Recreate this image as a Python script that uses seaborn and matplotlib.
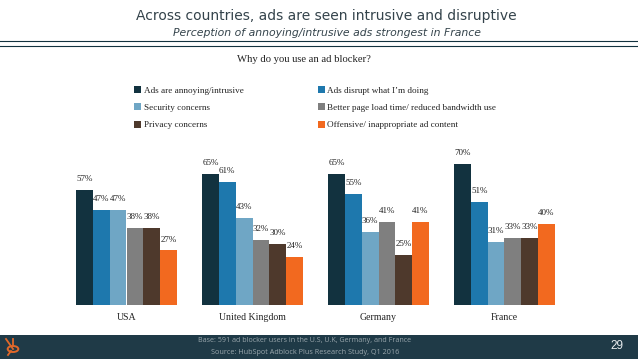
import pandas as pd
import seaborn as sns
import matplotlib.pyplot as plt
from matplotlib.patches import Rectangle, Circle
from matplotlib.lines import Line2D

# Data
paises = ['USA', 'United Kingdom', 'Germany', 'France']
motivos = ['Ads are annoying/intrusive', 'Ads disrupt what I’m doing', 'Security concerns',
           'Better page load time/ reduced bandwidth use', 'Privacy concerns',
           'Offensive/ inappropriate ad content']
annoying = [57, 65, 65, 70]
disrupt = [47, 61, 55, 51]
security = [47, 43, 36, 31]
better_page = [38, 32, 41, 33]
privacy = [38, 30, 25, 33]
offensive = [27, 24, 41, 40]
colores = ['#12323f', '#1e78ad', '#6fa6c5', '#7f7f7f', '#4e392c', '#f2691f']

df = pd.DataFrame({'pais': paises * 6,
                   'motivo': [m for m in motivos for _ in paises],
                   'valor': annoying + disrupt + security + better_page + privacy + offensive})

W, H = 638, 359
fig = plt.figure(figsize=(W / 100, H / 100), dpi=100)
ax = fig.add_axes([63.5 / W, (H - 305) / H, 504 / W, 161.6 / H])

sns.barplot(data=df, x='pais', y='valor', hue='motivo', order=paises, hue_order=motivos,
            palette=colores, saturation=1, width=0.8, gap=0, ax=ax)
ax.set_xlim(-0.5, 3.5)
ax.set_ylim(0, 80)
ax.set_xlabel('')
ax.set_ylabel('')
ax.set_yticks([])
ax.tick_params(axis='x', length=0, pad=6, labelsize=7.1, labelcolor='#222222')
for label in ax.get_xticklabels():
    label.set_family('Liberation Serif')
sns.despine(ax=ax, left=True, bottom=True)

for cont in ax.containers:
    ax.bar_label(cont, fmt='%g%%', padding=5, fontsize=6.5, color='#222222', family='Liberation Serif')

# Legend by rows, matplotlib fills by columns
handles, labels = ax.get_legend_handles_labels()
orden = [0, 2, 4, 1, 3, 5]
ax.get_legend().remove()
fig.legend([handles[i] for i in orden], [labels[i] for i in orden], ncol=2, frameon=False,
           loc='upper left', bbox_to_anchor=(134 / W, 1 - 86 / H), prop={'family': 'Liberation Serif', 'size': 6.6},
           handlelength=0.8, handleheight=0.8, handletextpad=0.25, columnspacing=8.1, labelspacing=0.95,
           borderpad=0, borderaxespad=0, labelcolor='#222222')

# Header
fig.text(326 / W, 1 - 16 / H, 'Across countries, ads are seen intrusive and disruptive', ha='center', va='center',
         fontsize=10, color='#34434b', family='DejaVu Sans')
fig.text(327 / W, 1 - 33 / H, 'Perception of annoying/intrusive ads strongest in France', ha='center', va='center',
         fontsize=7.8, style='italic', color='#34434b', family='DejaVu Sans')
fig.add_artist(Line2D([0, 1], [1 - 41 / H] * 2, color='#12323f', lw=0.8))
fig.add_artist(Line2D([0, 1], [1 - 46 / H] * 2, color='#12323f', lw=0.8))
fig.text(304 / W, 1 - 60 / H, 'Why do you use an ad blocker?', ha='center', va='center', fontsize=7.7,
         color='#222222', family='Liberation Serif')

# Footer band
fig.add_artist(Rectangle((0, 0), 1, 24 / H, transform=fig.transFigure, color='#1f3a47', lw=0))
fig.text(305 / W, 1 - 341 / H, 'Base: 591 ad blocker users in the U.S, U.K, Germany, and France', ha='center',
         va='center', fontsize=5.1, color='#9aa7ad', family='Open Sans')
fig.text(305 / W, 1 - 353 / H, 'Source: HubSpot Adblock Plus Research Study, Q1 2016', ha='center',
         va='center', fontsize=5.2, color='#9aa7ad', family='Open Sans')
fig.text(617 / W, 1 - 346 / H, '29', ha='center', va='center', fontsize=8.5, color='#e8ecee', family='Liberation Sans')

# Logo
logo = '#e0682a'
fig.add_artist(Circle((13 / W, 1 - 349 / H), 3 / H, transform=fig.transFigure, fill=False, ec=logo, lw=1.4))
fig.add_artist(Line2D([6 / W, 13 / W], [1 - 339 / H, 1 - 349 / H], color=logo, lw=1.3))
fig.add_artist(Line2D([13 / W, 13 / W], [1 - 339 / H, 1 - 346 / H], color=logo, lw=1.3))
fig.add_artist(Line2D([8 / W, 11 / W], [1 - 355 / H, 1 - 351 / H], color=logo, lw=1.3))

fig.savefig('out.png', dpi=100)
